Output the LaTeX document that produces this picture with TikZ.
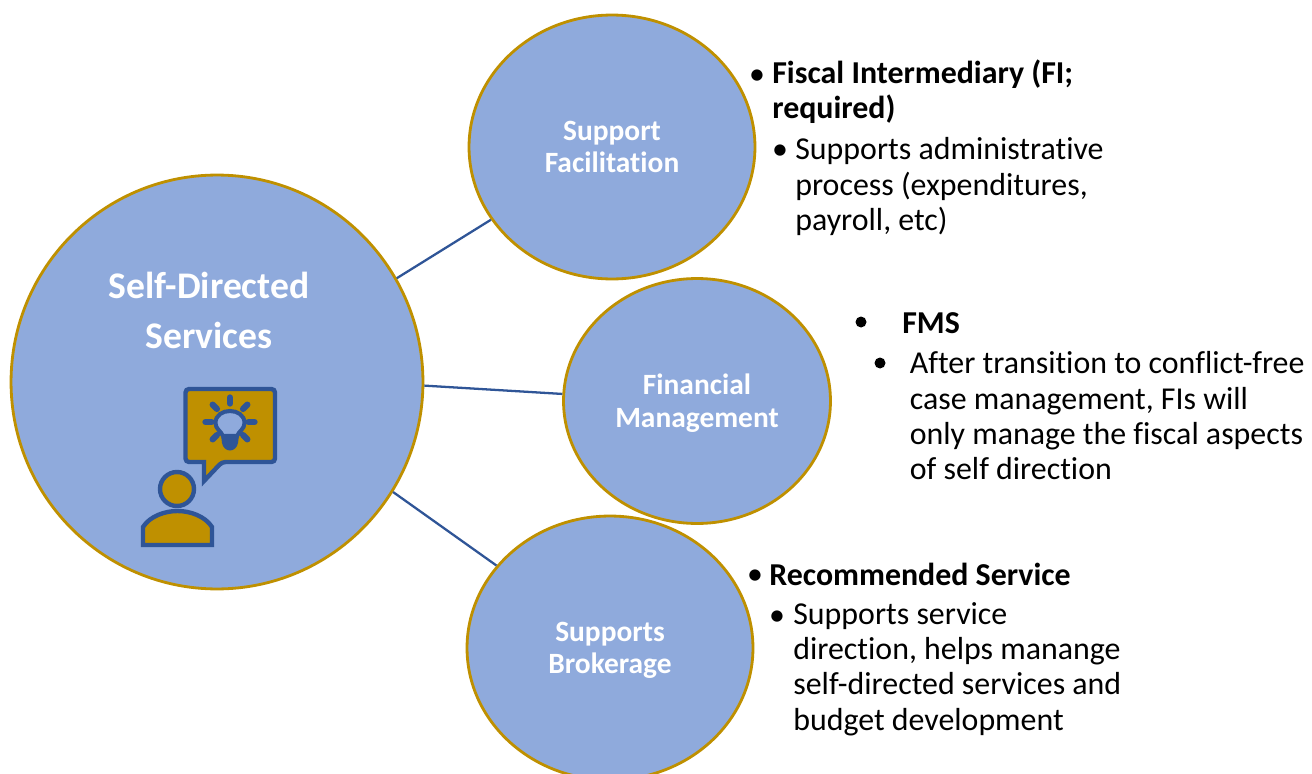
\documentclass[tikz,border=0pt]{standalone}
\usepackage{fontspec}
\setmainfont[Ligatures=NoCommon]{Carlito}
\usetikzlibrary{shapes.geometric}
\definecolor{circlefill}{HTML}{8FAADC}
\definecolor{circleline}{HTML}{BF9000}
\definecolor{linkblue}{HTML}{2F5597}
\tikzset{
  bubble/.style={ellipse, draw=circleline, fill=circlefill, line width=1.6pt, inner sep=0pt, text=white, align=center, font=\bfseries\fontsize{16.75}{18.6}\selectfont},
  maintitle/.style={inner sep=0pt, text=white, align=center, font=\bfseries\fontsize{21.4}{28.4}\selectfont},
  link/.style={draw=linkblue, line width=1.3pt},
  note/.style={anchor=west, inner sep=0pt, align=left, font=\fontsize{18.15}{20.1}\selectfont},
  notehead/.style={note, font=\bfseries\fontsize{18.15}{20.1}\selectfont},
  dot/.style={inner sep=0pt, font=\fontsize{18.15}{20.1}\selectfont},
  bigdot/.style={circle, fill=black, inner sep=0pt, minimum size=0.22cm},
  icon/.style={draw=linkblue, fill=circleline, line width=2.5pt},
}
\begin{document}
\begin{tikzpicture}[x=0.02cm,y=-0.02cm]
\useasboundingbox (0,0) rectangle (1312,774);
\clip (0,0) rectangle (1312,774);
\node[bubble, minimum width=8.24cm, minimum height=8.28cm] (main) at (217,382) {};
\node[maintitle] (maintext) at (209,310) {Self-Directed\\Services};
\node[bubble, minimum width=5.72cm, minimum height=5.28cm] (support) at (612,147) {Support\\Facilitation};
\node[bubble, minimum width=5.34cm, minimum height=4.9cm] (financial) at (697,401) {\rule{0pt}{14pt}Financial\\Management};
\node[bubble, minimum width=5.72cm, minimum height=5.28cm] (brokerage) at (610,648) {\rule{0pt}{13.5pt}Supports\\Brokerage};
\draw[link] (main.30) -- (support.211);
\draw[link] (main.-1) -- (financial.177.5);
\draw[link] (main.-32) -- (brokerage.144);
% person with a speech bubble
\draw[icon, line join=miter, rounded corners=2pt] (185.5,389) -- (275,389) -- (275,462) -- (222,462) [sharp corners] -- (204,481) -- (204,462) [rounded corners=2pt] -- (185.5,462) -- cycle;
\draw[icon] (177,489) circle (17);
\draw[icon] (143,545) -- (143,527) .. controls (150,516) and (165,511) .. (177.5,511) .. controls (190,511) and (205,516) .. (212,527) -- (212,545) -- cycle;
\foreach \a in {0,45,135,180,225,270,315}{
  \draw[linkblue, line width=3.6pt, line cap=round, shift={(230,422)}] (\a:18.5) -- (\a:24.5);
}
\fill[linkblue] (221,435) -- (239,435) -- (238,443) .. controls (236,453) and (224,453) .. (222,443) -- cycle;
\draw[linkblue, fill=circlefill, line width=2.3pt] (223,436) .. controls (221,431) and (215.5,429) .. (215.5,423) .. controls (215.5,407) and (244.5,407) .. (244.5,423) .. controls (244.5,429) and (239,431) .. (237,436) -- cycle;
% notes
\node[dot] (dota) at (757,77) {•};
\node[notehead] (fiscal) at (772,92) {Fiscal Intermediary (FI;\\required)};
\node[dot] (dotb) at (780,152) {•};
\node[note] (fiscalnote) at (795,186.5) {Supports administrative\\process (expenditures,\\payroll, etc)};
\node[bigdot] (dotc) at (861,322) {};
\node[notehead] (fms) at (902,323) {FMS};
\node[bigdot] (dotd) at (880,363) {};
\node[note] (fmsnote) at (909.5,416) {After transition to conflict-free\\case management, FIs will\\only manage the fiscal aspects\\of self direction};
\node[dot] (dote) at (755,577) {•};
\node[notehead] (recommended) at (769,574) {Recommended Service};
\node[dot] (dotf) at (777,618) {•};
\node[note] (servicenote) at (793,669) {Supports service\\direction, helps manange\\self-directed services and\\budget development};
\end{tikzpicture}
\end{document}
